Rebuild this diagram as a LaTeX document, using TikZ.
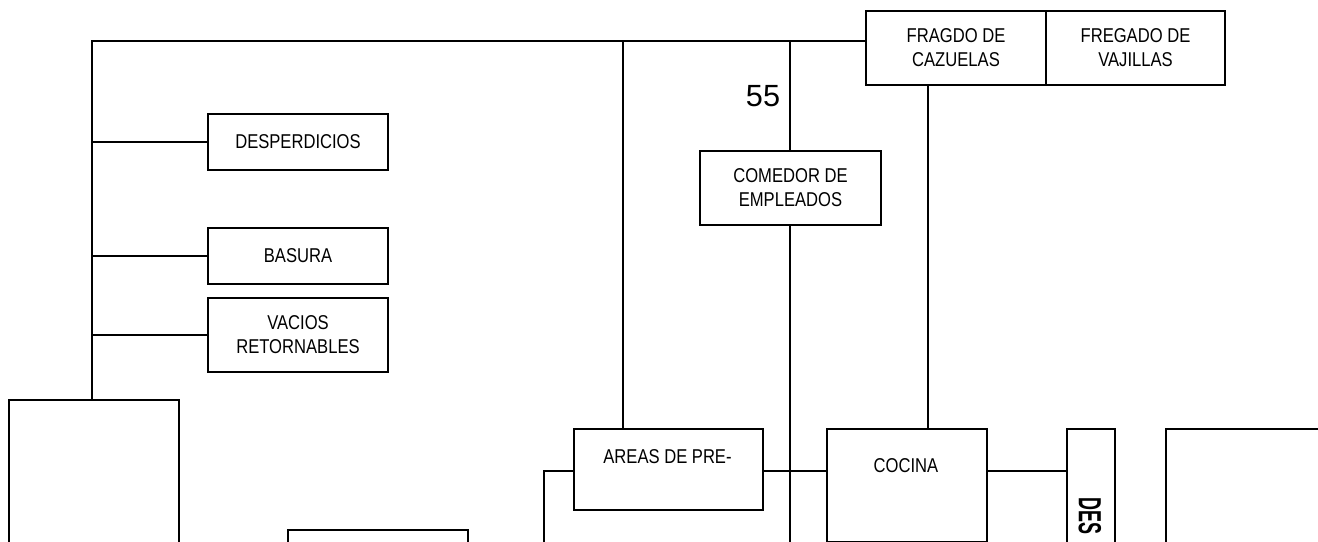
\documentclass[tikz,border=0pt]{standalone}
\usepackage{fontspec}
\setmainfont{Liberation Sans}
\newfontfamily\boxfont[FakeStretch=0.83]{Liberation Sans}
\newfontfamily\desfont[FakeStretch=0.56]{Liberation Sans}
\usetikzlibrary{calc}
\begin{document}
\begin{tikzpicture}[x=0.75pt,y=-0.75pt,
  box/.style={draw, line width=1.5pt, inner sep=0pt, anchor=north west, align=center,
              font=\boxfont\fontsize{15}{18}\selectfont},
  boxtext/.style={inner sep=0pt, font=\boxfont\fontsize{15}{18}\selectfont},
  conn/.style={line width=1.5pt}]
\useasboundingbox (0,0) rectangle (1318,542);
\fill[white] (0,0) rectangle (1318,542);
\clip (0,0) rectangle (1318,542);

% boxes
\node[box, minimum width=180*0.75pt, minimum height=56*0.75pt] (desp) at (207,113) {DESPERDICIOS};
\node[box, minimum width=180*0.75pt, minimum height=56*0.75pt] (basura) at (207,227) {BASURA};
\node[box, minimum width=180*0.75pt, minimum height=74*0.75pt] (vacios) at (207,297) {VACIOS\\RETORNABLES};
\node[box, minimum width=181*0.75pt, minimum height=74*0.75pt] (comedor) at (699,150) {COMEDOR DE\\EMPLEADOS};
\node[box, minimum width=180*0.75pt, minimum height=74*0.75pt] (frag) at (865,10) {FRAGDO DE\\CAZUELAS};
\node[box, minimum width=179*0.75pt, minimum height=74*0.75pt] (freg) at (1045,10) {FREGADO DE\\VAJILLAS};
\node[box, minimum width=189*0.75pt, minimum height=81*0.75pt] (areas) at (573,428) {};
\node[box, minimum width=160*0.75pt, minimum height=113*0.75pt] (cocina) at (826,428) {};
\node[box, minimum width=48*0.75pt, minimum height=140*0.75pt] (des) at (1066,428) {};
\node[box, minimum width=170*0.75pt, minimum height=170*0.75pt] (leftbox) at (8,399) {};
\node[box, minimum width=180*0.75pt, minimum height=50*0.75pt] (botbox) at (287,529) {};
\node[box, minimum width=170*0.75pt, minimum height=140*0.75pt] (rightbox) at (1165,428) {};

% texts
\node[boxtext] (areastext) at (667.5,457) {AREAS DE PRE-};
\node[boxtext] (cocinatext) at (906,466) {COCINA};
\node[inner sep=0pt, rotate=-90, anchor=west, font=\desfont\bfseries\fontsize{24}{24}\selectfont] (destext) at (1090,497) {DES};
\node[inner sep=0pt, font=\fontsize{23}{23}\selectfont] (n55) at (763,96) {55};

% connector points
\coordinate (tl) at (92,41);
\coordinate (j1) at (623,41);
\coordinate (j2) at (790,41);
\coordinate (r1) at (0,471);
\coordinate (la) at (544,560);
\coordinate (cb) at (790,560);
\coordinate (fx) at (928,0);

% connectors
\draw[conn] (tl |- leftbox.north) -- (tl) -- (tl -| frag.west);
\draw[conn] (tl |- desp.west) -- (desp.west);
\draw[conn] (tl |- basura.west) -- (basura.west);
\draw[conn] (tl |- vacios.west) -- (vacios.west);
\draw[conn] (j1) -- (j1 |- areas.north);
\draw[conn] (j2) -- (j2 |- comedor.north);
\draw[conn] (j2 |- comedor.south) -- (cb);
\draw[conn] (fx |- frag.south) -- (fx |- cocina.north);
\draw[conn] (areas.west |- r1) -| (la);
\draw[conn] (areas.east |- r1) -- (cocina.west |- r1);
\draw[conn] (cocina.east |- r1) -- (des.west |- r1);
\end{tikzpicture}
\end{document}
